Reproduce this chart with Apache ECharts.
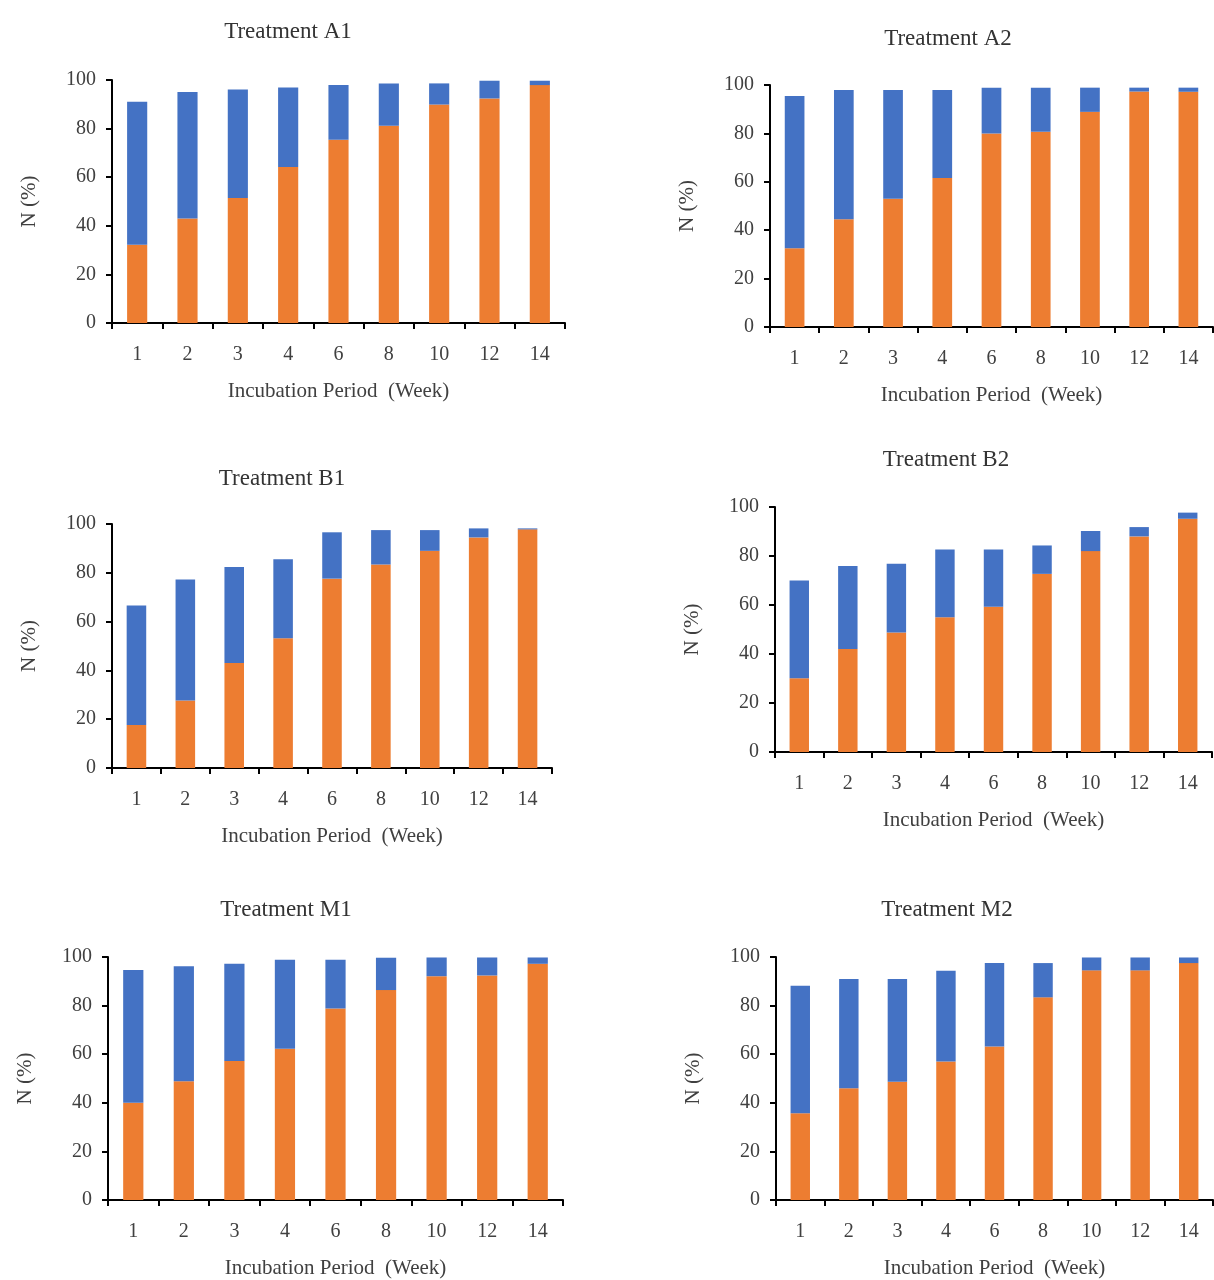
<!DOCTYPE html>
<html>
<head>
<meta charset="utf-8">
<script src="https://cdn.jsdelivr.net/npm/echarts@6/dist/echarts.min.js"></script>
<style>
html,body{margin:0;padding:0;background:#fff;}
#c{width:1214px;height:1280px;}
</style>
</head>
<body>
<div id="c"></div>
<script>
const weeks = ['1','2','3','4','6','8','10','12','14'];
const yTicks = [0, 20, 40, 60, 80, 100];

// orange (lower) and total (top of bar) values per treatment
const A1_orange = [32.2, 43, 51.4, 64.2, 75.4, 81.2, 89.9, 92.4, 97.9];
const A1_total  = [91, 95.1, 96.1, 96.9, 97.9, 98.6, 98.6, 99.7, 99.7];
const A2_orange = [32.5, 44.5, 53, 61.6, 80, 80.7, 88.9, 97.3, 97.2];
const A2_total  = [95.5, 97.9, 97.9, 97.9, 98.9, 98.9, 98.9, 98.9, 98.9];
const B1_orange = [17.6, 27.7, 43, 53.2, 77.6, 83.4, 89, 94.5, 97.8];
const B1_total  = [66.6, 77.3, 82.4, 85.6, 96.6, 97.5, 97.5, 98.2, 98.2];
const B2_orange = [30.1, 42, 48.8, 55, 59.3, 72.7, 82, 88, 95.2];
const B2_total  = [70, 75.9, 76.8, 82.7, 82.7, 84.3, 90.2, 91.8, 97.7];
const M1_orange = [40, 48.9, 57.2, 62.2, 78.8, 86.4, 92.1, 92.4, 97.2];
const M1_total  = [94.7, 96.2, 97.2, 98.9, 98.9, 99.7, 99.8, 99.8, 99.8];
const M2_orange = [35.7, 46, 48.7, 57, 63.2, 83.4, 94.5, 94.5, 97.5];
const M2_total  = [88.2, 90.9, 90.9, 94.3, 97.5, 97.5, 99.8, 99.8, 99.8];

const panels = [
  {name:'Treatment A1', orange:A1_orange, total:A1_total, grid:{left:112, top:80, width:453, height:243}, tx:283, ty:15},
  {name:'Treatment A2', orange:A2_orange, total:A2_total, grid:{left:770, top:85, width:443, height:242}, tx:943, ty:22},
  {name:'Treatment B1', orange:B1_orange, total:B1_total, grid:{left:112, top:524, width:440, height:244}, tx:277, ty:462},
  {name:'Treatment B2', orange:B2_orange, total:B2_total, grid:{left:775, top:507, width:437, height:245}, tx:941, ty:443},
  {name:'Treatment M1', orange:M1_orange, total:M1_total, grid:{left:108, top:957, width:455, height:243}, tx:281, ty:893},
  {name:'Treatment M2', orange:M2_orange, total:M2_total, grid:{left:776, top:957, width:437, height:243}, tx:942, ty:893}
];

const FONT = '"Liberation Serif", "DejaVu Serif", serif';
const ORANGE = '#ED7D31';
const BLUE = '#4472C4';
const TXT = '#404040';

const option = {
  animation:false,
  backgroundColor:'#fff',
  title:[], grid:[], xAxis:[], yAxis:[], series:[]
};

panels.forEach((p, i) => {
  option.title.push({
    text:p.name, left:p.tx, top:p.ty, textAlign:'center',
    textStyle:{fontFamily:FONT, fontSize:23, fontWeight:'normal', color:'#333'}
  });
  option.grid.push(Object.assign({containLabel:false}, p.grid));
  option.xAxis.push({
    type:'category', gridIndex:i, data:weeks,
    name:'Incubation Period  (Week)', nameLocation:'middle', nameGap:58,
    nameTextStyle:{fontFamily:FONT, fontSize:21, color:TXT},
    axisLine:{show:true, lineStyle:{color:'#000', width:2}},
    axisTick:{show:true, length:6, lineStyle:{color:'#000', width:2}},
    axisLabel:{fontFamily:FONT, fontSize:20, color:TXT, margin:22},
    splitLine:{show:false}
  });
  option.yAxis.push({
    type:'value', gridIndex:i, min:0, max:100, interval:20,
    name:'N (%)', nameLocation:'middle', nameGap:72, nameRotate:90,
    nameTextStyle:{fontFamily:FONT, fontSize:21, color:TXT},
    axisLine:{show:true, lineStyle:{color:'#000', width:2}},
    axisTick:{show:true, length:6, lineStyle:{color:'#000', width:2}},
    axisLabel:{fontFamily:FONT, fontSize:20, color:TXT, margin:16,
      formatter:(v)=> yTicks.indexOf(v) >= 0 ? String(v) : ''},
    splitLine:{show:false}
  });
  option.series.push({
    type:'bar', xAxisIndex:i, yAxisIndex:i, stack:'s'+i,
    data:p.orange, barWidth:'40%', itemStyle:{color:ORANGE}
  });
  option.series.push({
    type:'bar', xAxisIndex:i, yAxisIndex:i, stack:'s'+i,
    data:p.total.map((t, k) => +(t - p.orange[k]).toFixed(2)),
    barWidth:'40%', itemStyle:{color:BLUE}
  });
});

const chart = echarts.init(document.getElementById('c'), null, {renderer:'canvas'});
chart.setOption(option);
</script>
</body>
</html>
